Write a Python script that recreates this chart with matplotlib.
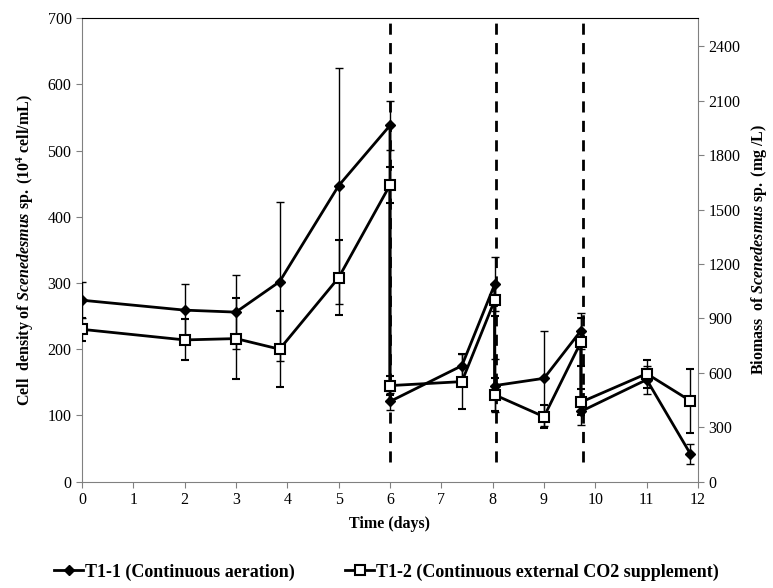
import numpy as np
import matplotlib
matplotlib.use("Agg")
import matplotlib.pyplot as plt
from matplotlib.lines import Line2D

plt.rcParams['font.family'] = ['Liberation Serif', 'DejaVu Serif']
plt.rcParams['mathtext.fontset'] = 'custom'
plt.rcParams['mathtext.rm'] = 'Liberation Serif'
plt.rcParams['mathtext.it'] = 'Liberation Serif:italic'
plt.rcParams['mathtext.bf'] = 'Liberation Serif:bold'
plt.rcParams['mathtext.bfit'] = 'Liberation Serif:italic:bold'

# sampling days (repeated day = before / after medium exchange)
days = [0, 2, 3, 3.85, 5, 6, 6, 7.4, 8.04, 8.04, 9, 9.72, 9.72, 11, 11.85]

# T1-1 continuous aeration
t11 = [274, 259, 256, 302, 447, 538, 121, 175, 298, 145, 156, 228, 106, 154, 42]
t11_err = [27, 39, 56, 120, 178, 37, 13, 18, 41, 40, 72, 27, 20, 21, 15]

# T1-2 continuous external CO2 supplement
t12 = [230, 214, 216, 200, 308, 448, 145, 151, 274, 131, 98, 211, 120, 163, 122]
t12_err = [17, 31, 61, 57, 57, 27, 14, 42, 24, 25, 17, 36, 20, 21, 48]

harvest_days = [6.0, 8.07, 9.75]

fig, ax = plt.subplots(figsize=(7.73, 5.88), dpi=100)
fig.subplots_adjust(left=0.106, right=0.903, top=0.969, bottom=0.181)

for d in harvest_days:
    ax.plot([d, d], [30, 700], color='black', lw=2, ls=(0, (4, 3)), zorder=1)

ax.errorbar(days, t11, yerr=t11_err, color='black', lw=2, marker='D', ms=5.5,
            mfc='black', mec='black', ecolor='black', elinewidth=1, capsize=3,
            capthick=1, zorder=3)
ax.errorbar(days, t12, yerr=t12_err, color='black', lw=2, marker='s', ms=7,
            mfc='white', mec='black', mew=1.5, ecolor='black', elinewidth=1,
            capsize=3, capthick=1, zorder=4)

ax.set_xlim(0, 12)
ax.set_ylim(0, 700)
ax.set_xticks(range(0, 13))
ax.set_yticks(range(0, 701, 100))
ax.tick_params(direction='out', length=4, color='gray', labelsize=11.5)

for s in ['left', 'bottom', 'right']:
    ax.spines[s].set_color('gray')
ax.spines['top'].set_color('black')

ax.set_xlabel('Time (days)', fontsize=11.5, fontweight='bold', labelpad=6)
ax.set_ylabel(r'$\mathbf{Cell\ \ density\ of\ }\mathbfit{Scenedesmus}\mathbf{\ sp.\ (10^4\ cell/mL)}$',
              fontsize=11.5, labelpad=8)

ax2 = ax.twinx()
ax2.set_ylim(0, 700 * 3.65)
ax2.set_yticks(range(0, 2401, 300))
ax2.tick_params(direction='out', length=4, color='gray', labelsize=11.5)
for s in ax2.spines.values():
    s.set_visible(False)
ax2.set_ylabel(r'$\mathbf{Biomass\ \ of\ }\mathbfit{Scenedesmus}\mathbf{\ sp.\ (mg\ /L)}$',
               fontsize=11.5, labelpad=6)

handles = [
    Line2D([], [], color='black', lw=2, marker='D', ms=5.5, mfc='black'),
    Line2D([], [], color='black', lw=2, marker='s', ms=7, mfc='white', mew=1.5),
]
labels = ['T1-1 (Continuous aeration)', 'T1-2 (Continuous external CO2 supplement)']
fig.legend(handles, labels, loc='center', bbox_to_anchor=(0.5, 0.027), ncol=2,
           frameon=False, prop={'weight': 'bold', 'size': 13}, handlelength=1.6,
           handletextpad=0.1, columnspacing=2.8)

fig.savefig('out.png', dpi=100)
